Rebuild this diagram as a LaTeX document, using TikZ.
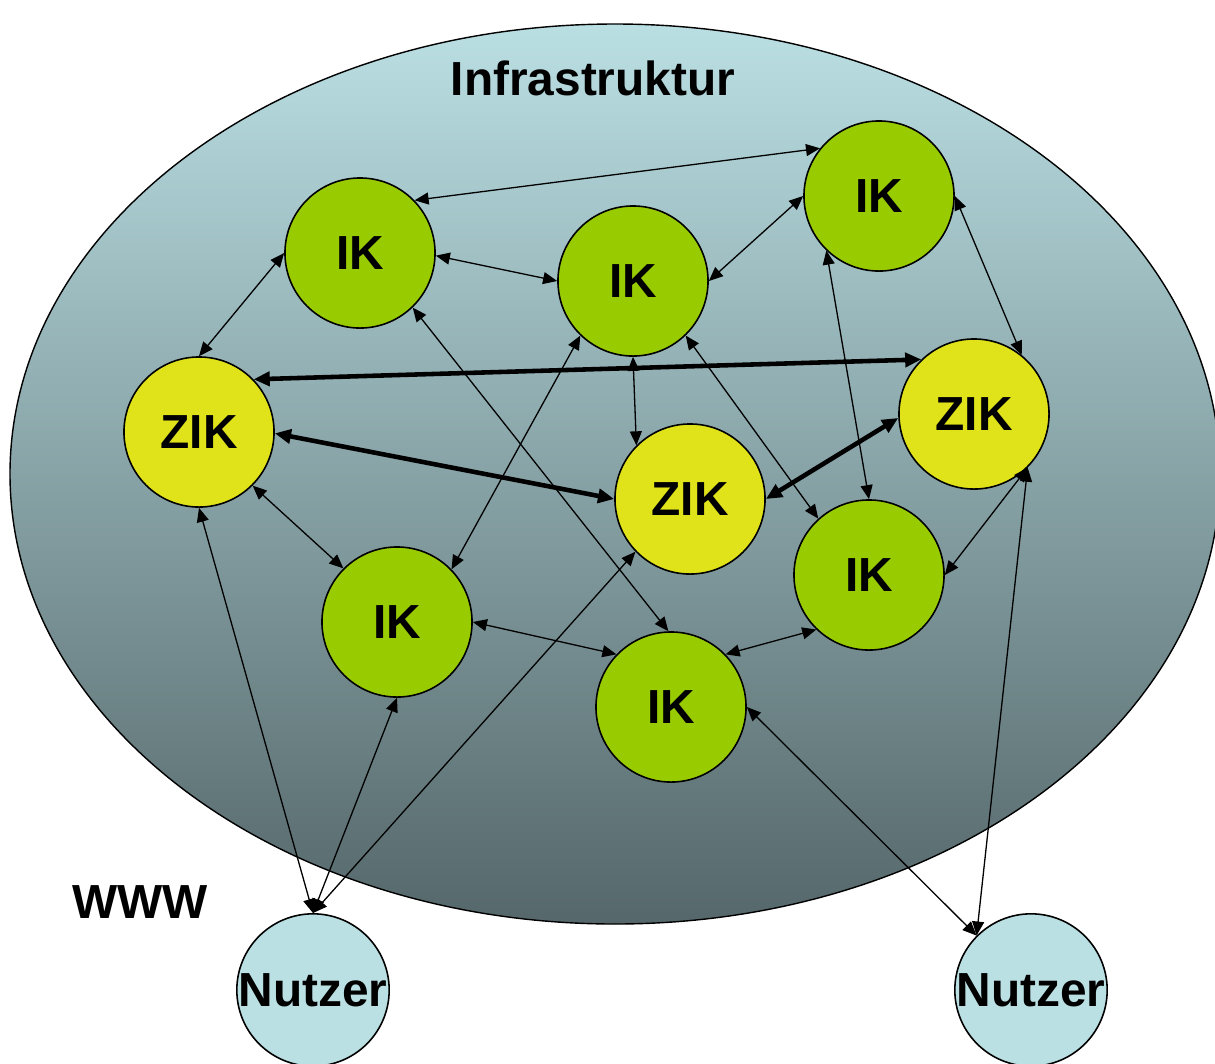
\documentclass[tikz,border=0pt]{standalone}
\usepackage{fontspec}
\setmainfont{Liberation Sans}
\usetikzlibrary{arrows.meta}
\definecolor{ikgreen}{HTML}{99CC00}
\definecolor{zikyellow}{HTML}{E0E319}
\definecolor{nutzerblue}{HTML}{BAE0E3}
\definecolor{infratop}{HTML}{BADFE3}
\definecolor{inframi}{HTML}{9EBEC2}
\definecolor{infrabot}{HTML}{55676A}

\begin{document}
\begin{tikzpicture}[x=0.01cm,y=-0.01cm,
	knoten/.style={circle,draw,line width=0.45pt,minimum size=1.5cm,inner sep=0pt,font=\fontsize{13.6}{16}\selectfont\bfseries},
	ik/.style={knoten,fill=ikgreen},
	zik/.style={knoten,fill=zikyellow},
	nutzer/.style={knoten,fill=nutzerblue},
	verb/.style={line width=0.37pt,{Triangle[length=4pt,width=3.4pt]}-{Triangle[length=4pt,width=3.4pt]}},
	dick/.style={line width=1.3pt,{Triangle[length=4.6pt,width=4pt]}-{Triangle[length=4.6pt,width=4pt]}}]
\useasboundingbox (0,0) rectangle (1215,1063);

% Infrastruktur
\draw[line width=0.4pt,top color=infratop,middle color=inframi,bottom color=infrabot] (615,474) ellipse [x radius=605,y radius=450];
\node (infra) at (593,78) {\fontsize{13.6}{16}\selectfont\bfseries Infrastruktur};
\node (www) at (140,902) {\fontsize{13.6}{16}\selectfont\bfseries WWW};

\node[ik] (ik1) at (360,253) {IK};
\node[ik] (ik2) at (633,281) {IK};
\node[ik] (ik3) at (879,196) {IK};
\node[zik] (zik1) at (199,432) {ZIK};
\node[zik] (zik2) at (974,414) {ZIK};
\node[zik] (zik3) at (690,499) {ZIK};
\node[ik] (ik4) at (397,622) {IK};
\node[ik] (ik5) at (869,575) {IK};
\node[ik] (ik6) at (671,707) {IK};
\node[nutzer] (nutzer1) at (313,990) {Nutzer};
\node[nutzer] (nutzer2) at (1031,990) {Nutzer};

% IK untereinander
\draw[verb] (ik1.44)--(ik3.141);
\draw[verb] (ik1.-2)--(ik2.180);
\draw[verb] (ik2.east)--(ik3.west);
\draw[verb] (ik1.west)--(zik1.north);
\draw[verb] (ik2.south)--(zik3.135);
\draw[verb] (ik3.east)--(zik2.51);
\draw[verb] (ik3.226)--(ik5.north);
\draw[verb] (ik2.-46)--(ik5.132);
\draw[verb] (ik1.-46)--(ik6.92);
\draw[verb] (ik2.226)--(ik4.44);
\draw[verb] (zik1.-45)--(ik4.135);
\draw[verb] (zik2.-45)--(ik5.east);
\draw[verb] (ik4.east)--(ik6.136);
\draw[verb] (ik5.226)--(ik6.44);

% ZIK
\draw[dick] (zik1.44)--(zik2.134);
\draw[dick] (zik1.-1)--(zik3.180);
\draw[dick] (zik2.183)--(zik3.east);

% Nutzer
\draw[verb] (zik1.south)--(nutzer1.north);
\draw[verb] (ik4.south)--(nutzer1.north);
\draw[verb] (zik3.224)--(nutzer1.north);
\draw[verb] (ik6.east)--(nutzer2.135);
\draw[verb] (zik2.-45)--(nutzer2.135);
\end{tikzpicture}
\end{document}
